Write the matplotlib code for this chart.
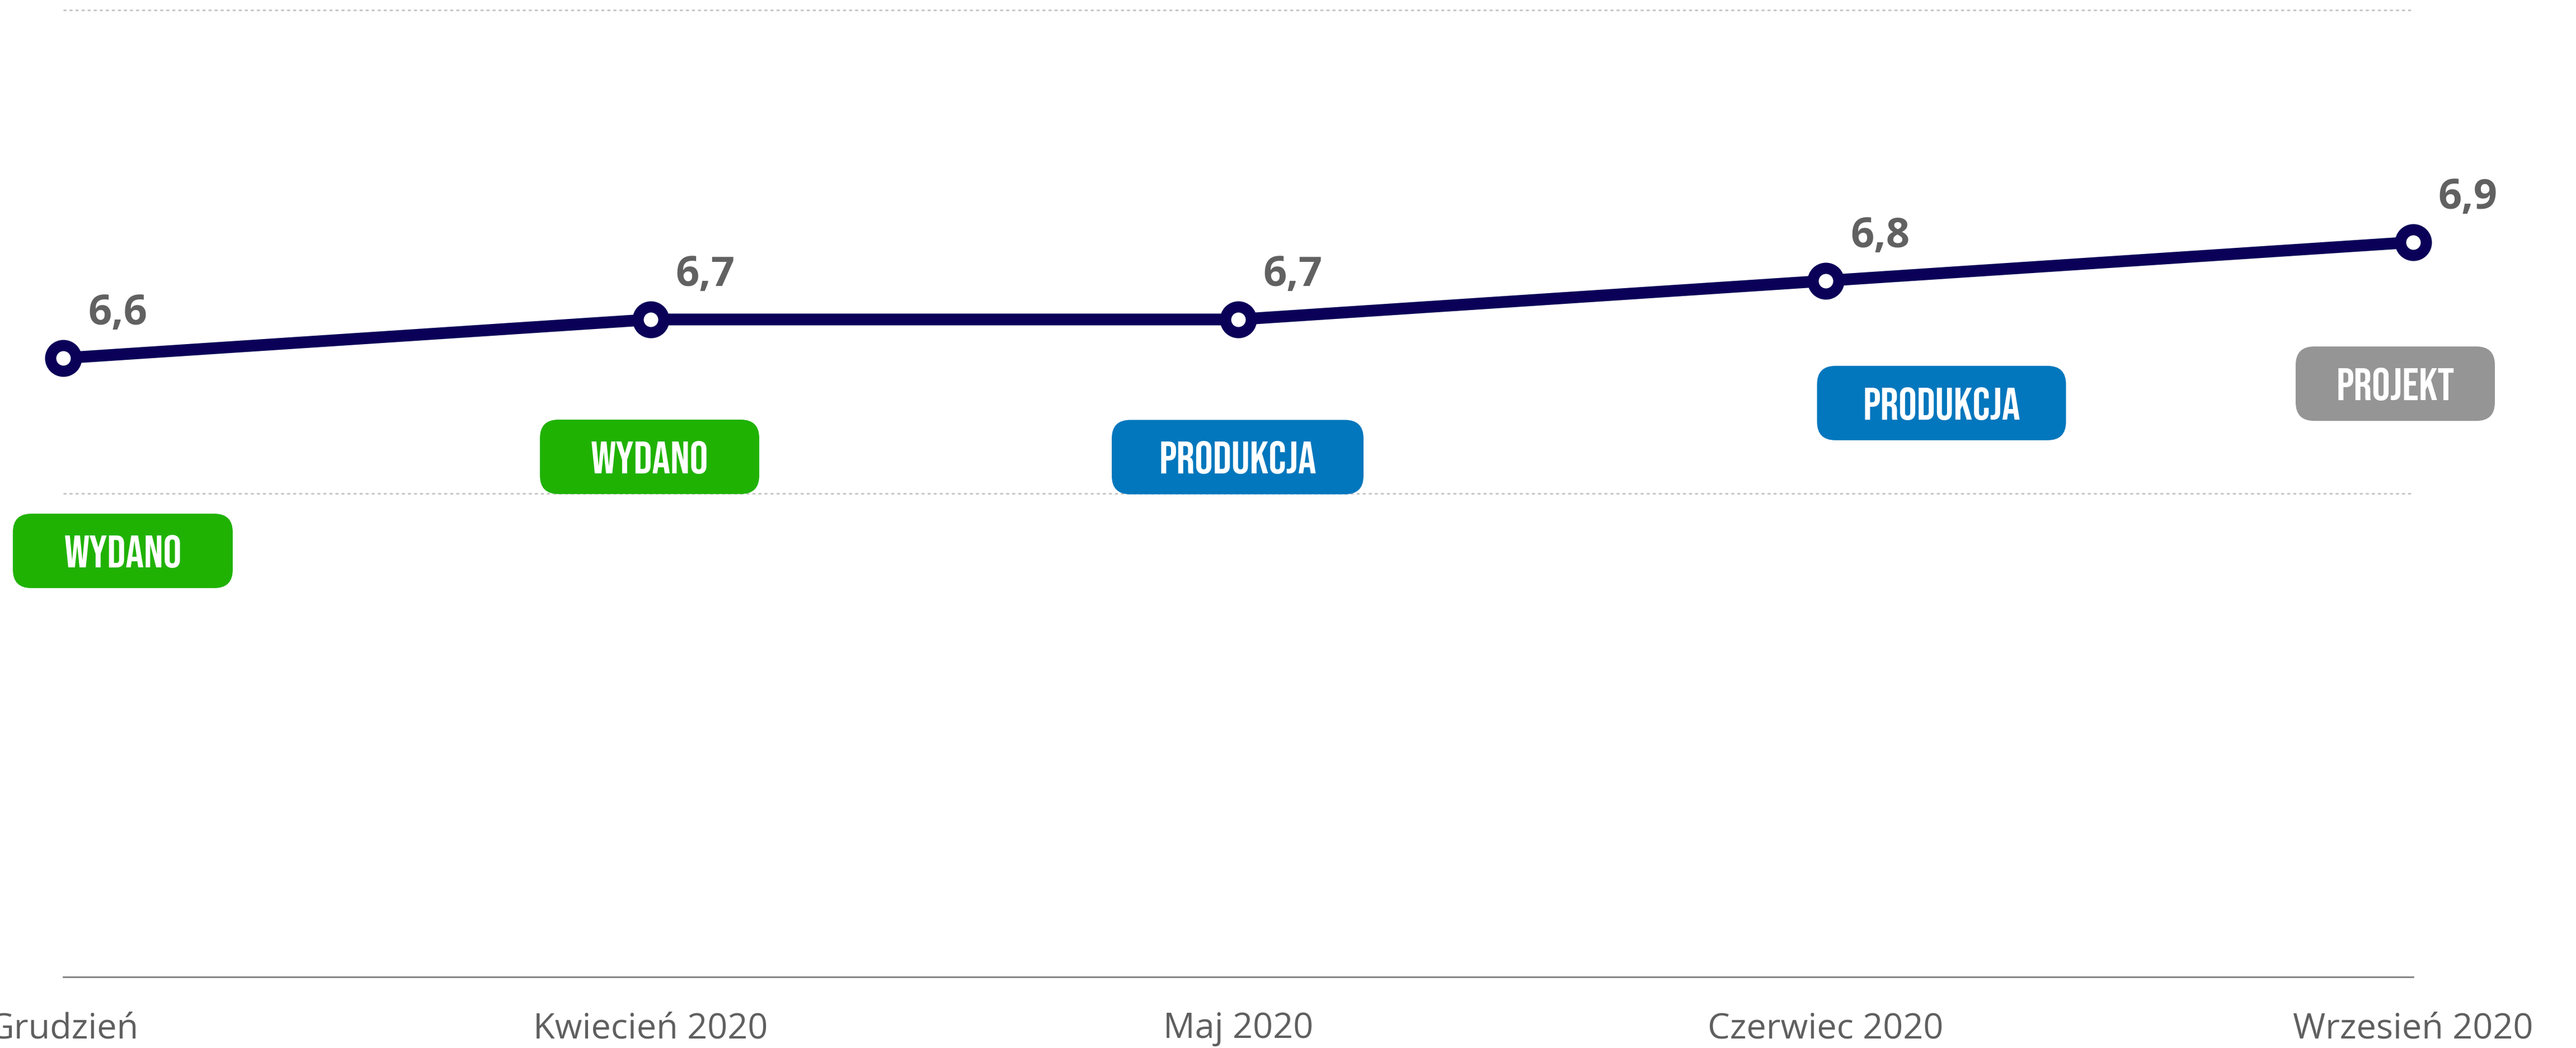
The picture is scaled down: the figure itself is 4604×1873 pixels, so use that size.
import matplotlib
matplotlib.use('Agg')
import matplotlib.pyplot as plt
from matplotlib import font_manager
from matplotlib.font_manager import FontProperties
from matplotlib.patches import FancyBboxPatch
from matplotlib.transforms import IdentityTransform
from matplotlib.textpath import TextPath

# ---------------- data ----------------
categories = ['Grudzień', 'Kwiecień 2020', 'Maj 2020', 'Czerwiec 2020', 'Wrzesień 2020']
values = [6.6, 6.7, 6.7, 6.8, 6.9]
value_labels = ['6,6', '6,7', '6,7', '6,8', '6,9']
statuses = ['WYDANO', 'WYDANO', 'PRODUKCJA', 'PRODUKCJA', 'PROJEKT']
y_grid = [6.25, 7.5]
y_limits = [5.0, 7.5]

# ---------------- style ----------------
DPI = 100
W_PX, H_PX = 4604, 1874
PX = 72.0 / DPI  # points per pixel

status_colors = {'WYDANO': '#20b203', 'PRODUKCJA': '#0277bd', 'PROJEKT': '#959595'}
line_color = '#0b0058'
label_color = '#616161'
tick_color = '#5f5f5f'

# badge placement (pixel offsets of badge centre from point, y downward) and sizes
badge_offsets = [(106.5, 344.5), (-2, 245.5), (-1, 246), (207, 218.5), (-32, 253)]
badge_widths = [393, 392, 450, 445, 356]
badge_text_ref_w = [212, 212, 284, 284, 213]
badge_h = 133
badge_r = 33
badge_cap_px = 57

# font choice for the badges (condensed if available)
installed = {f.name for f in font_manager.fontManager.ttflist}
badge_family = None
for cand in ['Bebas Neue', 'Oswald', 'Roboto Condensed', 'Open Sans Condensed',
             'Noto Sans ExtraCondensed', 'Noto Sans Condensed', 'Liberation Sans Narrow',
             'DejaVu Sans Condensed', 'Liberation Sans']:
    if cand in installed:
        badge_family = cand
        break
if badge_family is None:
    badge_family = 'DejaVu Sans'
badge_fp = FontProperties(family=badge_family, weight='bold')

# size badge text: cap height close to reference but width not too large
em_cap = badge_cap_px / (TextPath((0, 0), 'H', size=100, prop=badge_fp).get_extents().height / 100)
em_fit = min(ref * 1.25 / (TextPath((0, 0), s, size=100, prop=badge_fp).get_extents().width / 100)
             for s, ref in zip(statuses, badge_text_ref_w))
badge_em = min(em_cap, em_fit)
badge_cap = TextPath((0, 0), 'H', size=badge_em, prop=badge_fp).get_extents().height

# ---------------- figure ----------------
fig = plt.figure(figsize=(W_PX / DPI, H_PX / DPI), dpi=DPI)
left = 113 / W_PX
right = 4313 / W_PX
bottom = (H_PX - 1747) / H_PX
top = (H_PX - 19) / H_PX
ax = fig.add_axes([left, bottom, right - left, top - bottom])

x = list(range(len(categories)))
ax.set_xlim(x[0], x[-1])
ax.set_ylim(*y_limits)

for side in ['top', 'left', 'right']:
    ax.spines[side].set_visible(False)
ax.spines['bottom'].set_color('#7c7c7c')
ax.spines['bottom'].set_linewidth(2.7 * PX)
ax.spines['bottom'].set_zorder(1)

ax.set_yticks(y_grid)
ax.yaxis.grid(True, color='#c3c3c3', linewidth=2.7 * PX, linestyle=(0, (2, 2)))
ax.xaxis.grid(False)
ax.set_axisbelow(True)
ax.tick_params(axis='y', length=0, labelleft=False)
for gl in ax.get_ygridlines():
    gl.set_clip_on(False)

ax.set_xticks(x)
ax.set_xticklabels(categories)
ax.tick_params(axis='x', length=0, pad=61 * PX, labelsize=63 * PX, labelcolor=tick_color)
for lab in ax.get_xticklabels():
    lab.set_fontfamily(['Open Sans', 'DejaVu Sans'])

ax.plot(x, values, color=line_color, linewidth=21 * PX, marker='o',
        markersize=46 * PX, markeredgewidth=20 * PX, markerfacecolor='white',
        markeredgecolor=line_color, zorder=4, clip_on=False)

for xi, v, lab in zip(x, values, value_labels):
    ax.annotate(lab, (xi, v), xytext=(44 * PX, 61 * PX), textcoords='offset points',
                ha='left', va='baseline', fontsize=74 * PX, fontweight='bold',
                family=['Open Sans', 'DejaVu Sans'], color=label_color,
                annotation_clip=False, zorder=5)

# badges
for xi, v, st, (dx, dy), bw in zip(x, values, statuses, badge_offsets, badge_widths):
    px, py = ax.transData.transform((xi, v))
    cx, cy = px + dx, py - dy
    patch = FancyBboxPatch((cx - bw / 2, cy - badge_h / 2), bw, badge_h,
                           boxstyle='round,pad=0,rounding_size=%g' % badge_r,
                           transform=IdentityTransform(), facecolor=status_colors[st],
                           edgecolor='none', zorder=6, clip_on=False)
    fig.add_artist(patch)
    fig.text(cx, cy - badge_cap / 2, st, transform=IdentityTransform(),
             ha='center', va='baseline', fontproperties=badge_fp,
             fontsize=badge_em * PX, color='white', zorder=7)

fig.savefig('out.png', dpi=DPI, facecolor='white')
